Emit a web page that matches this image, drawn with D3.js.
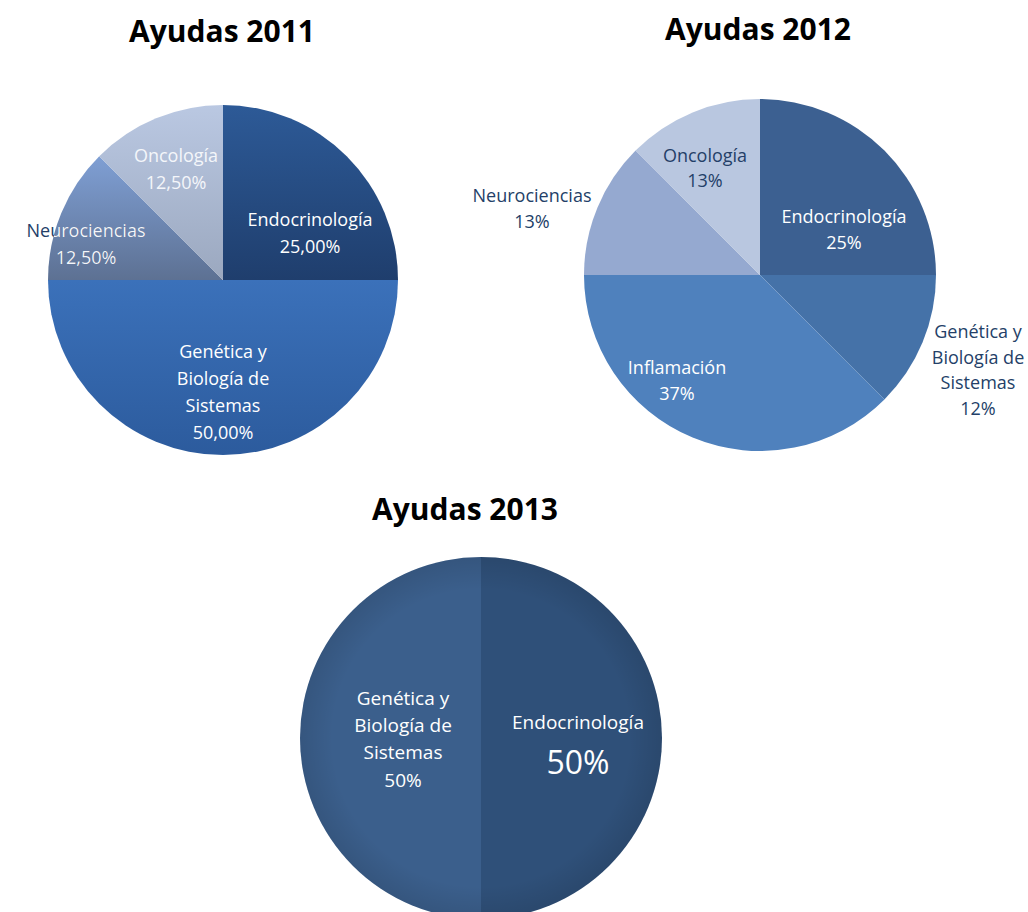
<!DOCTYPE html>
<html>
<head>
<meta charset="utf-8">
<script src="https://cdn.jsdelivr.net/npm/d3@7"></script>
<style>
  body { margin: 0; background: #fff; }
  svg { display: block; font-family: "Open Sans", "DejaVu Sans", sans-serif; }
</style>
</head>
<body>
<svg id="chart"></svg>
<script>
// data //
var cats2011 = ["Endocrinología", "Genética y\nBiología de\nSistemas", "Neurociencias", "Oncología"];
var vals2011 = [25, 50, 12.5, 12.5];
var pct2011 = ["25,00%", "50,00%", "12,50%", "12,50%"];

var cats2012 = ["Endocrinología", "Genética y\nBiología de\nSistemas", "Inflamación", "Neurociencias", "Oncología"];
var vals2012 = [25, 12.5, 37.5, 12.5, 12.5];
var pct2012 = ["25%", "12%", "37%", "13%", "13%"];

var cats2013 = ["Endocrinología", "Genética y\nBiología de\nSistemas"];
var vals2013 = [50, 50];
var pct2013 = ["50%", "50%"];

var screen = { width: 1028, height: 912 };
var svg = d3.select("#chart").attr("width", screen.width).attr("height", screen.height);
var defs = svg.append("defs");

var dark = "#243f68";

// gradient helper //
var makeGrad = function (id, top, bottom) {
  var g = defs.append("linearGradient").attr("id", id)
    .attr("x1", 0).attr("y1", 0).attr("x2", 0).attr("y2", 1);
  g.append("stop").attr("offset", "0%").attr("stop-color", top);
  g.append("stop").attr("offset", "100%").attr("stop-color", bottom);
  return "url(#" + id + ")";
};

var drawPie = function (cfg) {
  var g = svg.append("g").attr("transform", "translate(" + cfg.cx + "," + cfg.cy + ")");

  var pie = d3.pie().sort(null).value(function (d) { return d.value; });
  var arc = d3.arc().innerRadius(0).outerRadius(cfg.r);
  var data = cfg.cats.map(function (c, i) {
    return { name: c, value: cfg.vals[i], pct: cfg.pct[i] };
  });
  var arcs = pie(data);

  g.selectAll("path.slice")
    .data(arcs)
    .enter()
    .append("path")
    .attr("class", "slice")
    .attr("d", arc)
    .attr("fill", function (d, i) { return cfg.colors[i]; });

  if (cfg.vignette) {
    var rg = defs.append("radialGradient").attr("id", cfg.id + "-vig");
    rg.append("stop").attr("offset", "82%").attr("stop-color", "#000").attr("stop-opacity", 0);
    rg.append("stop").attr("offset", "100%").attr("stop-color", "#000").attr("stop-opacity", 0.1);
    g.append("circle").attr("r", cfg.r).attr("fill", "url(#" + cfg.id + "-vig)");
  }

  // clip so text over the pie can turn white
  defs.append("clipPath").attr("id", cfg.id + "-clip")
    .append("circle").attr("cx", cfg.cx).attr("cy", cfg.cy).attr("r", cfg.r);

  arcs.forEach(function (a, i) {
    var lay = cfg.layout[i];
    var lines = a.data.name.split("\n").concat([a.data.pct]);
    var n = lines.length;
    var lh = lay.lh || cfg.lh;
    var writeText = function (parent, color) {
      lines.forEach(function (t, k) {
        var size = (k === n - 1 && lay.pctSize) ? lay.pctSize : cfg.fontSize;
        parent.append("text")
          .text(t)
          .attr("x", cfg.cx + lay.dx)
          .attr("y", cfg.cy + lay.dy + (k - (n - 1) / 2) * lh)
          .attr("dy", "0.36em")
          .attr("text-anchor", "middle")
          .attr("font-size", size)
          .attr("fill", color);
      });
    };
    if (lay.split) {
      writeText(svg.append("g"), dark);
      writeText(svg.append("g").attr("clip-path", "url(#" + cfg.id + "-clip)"), lay.fill);
    } else {
      writeText(svg.append("g"), lay.fill);
    }
  });

  svg.append("text")
    .text(cfg.title)
    .attr("x", cfg.titleX)
    .attr("y", cfg.titleY)
    .attr("text-anchor", "middle")
    .attr("font-size", 30)
    .attr("font-weight", "bold")
    .attr("fill", "#000");
};

drawPie({
  id: "p2011", title: "Ayudas 2011", titleX: 222, titleY: 42,
  cx: 223, cy: 280, r: 175, fontSize: 18, lh: 26.7,
  cats: cats2011, vals: vals2011, pct: pct2011,
  colors: [
    makeGrad("g11a", "#2d5a97", "#1f3e6d"),
    makeGrad("g11b", "#3b71ba", "#2c5b9d"),
    makeGrad("g11c", "#7f9fd4", "#5d7193"),
    makeGrad("g11d", "#bac8e2", "#9ba8bf")
  ],
  layout: [
    { dx: 87, dy: -47, fill: "#fff" },
    { dx: 0, dy: 112, fill: "#fff" },
    { dx: -137, dy: -36, fill: "#f4f6fa", split: true },
    { dx: -47, dy: -111, fill: "#f4f6fa" }
  ]
});

drawPie({
  id: "p2012", title: "Ayudas 2012", titleX: 758, titleY: 40,
  cx: 760, cy: 275, r: 176, fontSize: 18, lh: 25.5,
  cats: cats2012, vals: vals2012, pct: pct2012,
  colors: ["#3c6091", "#4572a8", "#4f81bd", "#95a9d0", "#b9c7e0"],
  layout: [
    { dx: 84, dy: -45.5, fill: "#fff" },
    { dx: 218, dy: 95, fill: dark },
    { dx: -83, dy: 105.5, fill: "#fff" },
    { dx: -228, dy: -66.5, fill: dark },
    { dx: -55, dy: -107, fill: dark }
  ]
});

drawPie({
  id: "p2013", title: "Ayudas 2013", titleX: 465, titleY: 520,
  cx: 481, cy: 738, r: 181, fontSize: 19, lh: 27.3, vignette: true,
  cats: cats2013, vals: vals2013, pct: pct2013,
  colors: ["#2f5079", "#3b5f8c"],
  layout: [
    { dx: 97, dy: 4, fill: "#fff", lh: 40, pctSize: 32 },
    { dx: -78, dy: 1, fill: "#fff" }
  ]
});
</script>
</body>
</html>
